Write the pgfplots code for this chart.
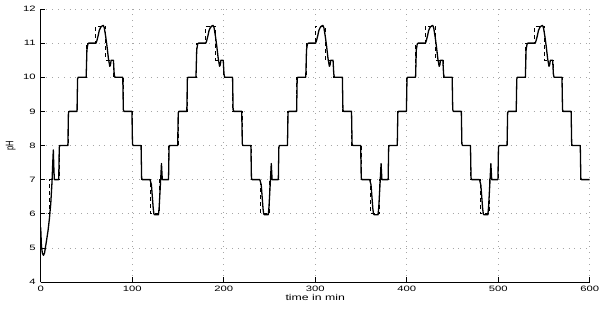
\documentclass[border=0pt]{standalone}
\usepackage{pgfplots}
\pgfplotsset{compat=1.18}
\usepackage{fontspec}
\setmainfont[FakeStretch=1.45]{Liberation Sans}
\newfontfamily\ylfont[FakeStretch=0.7]{Liberation Sans}
\pgfplotstableread{
t ph
0 6
10 6
10 7
20 7
20 8
30 8
30 9
40 9
40 10
50 10
50 11
60 11
60 11.5
71 11.5
71 10.5
80 10.5
80 10
90 10
90 9
100 9
100 8
110 8
110 7
120.4 7
120.4 6
130.2 6
130.2 7
140 7
140 8
150 8
150 9
160 9
160 10
170 10
170 11
180 11
180 11.5
191 11.5
191 10.5
200 10.5
200 10
210 10
210 9
220 9
220 8
230 8
230 7
240.4 7
240.4 6
250.2 6
250.2 7
260 7
260 8
270 8
270 9
280 9
280 10
290 10
290 11
300 11
300 11.5
311 11.5
311 10.5
320 10.5
320 10
330 10
330 9
340 9
340 8
350 8
350 7
360.4 7
360.4 6
370.2 6
370.2 7
380 7
380 8
390 8
390 9
400 9
400 10
410 10
410 11
420 11
420 11.5
431 11.5
431 10.5
440 10.5
440 10
450 10
450 9
460 9
460 8
470 8
470 7
480.4 7
480.4 6
490.2 6
490.2 7
500 7
500 8
510 8
510 9
520 9
520 10
530 10
530 11
540 11
540 11.5
551 11.5
551 10.5
560 10.5
560 10
570 10
570 9
580 9
580 8
590 8
590 7
600 7
}\setpoint
\pgfplotstableread{
t ph
0 5.6
0.8 5.05
1.8 4.85
3 4.78
4.2 4.85
6 5.15
8 5.5
9.5 5.85
11 6.3
12.3 6.9
13.2 7.5
13.8 7.87
14.3 7.4
14.9 7.0
15 7
19.7 7
20.3 7.95
21 8
29.7 8
30.3 8.95
31 9
39.7 9
40.3 9.95
41 10
49.7 10
50.5 10.8
51.5 10.97
52.5 11
60.5 11
61.5 11.08
62.8 11.22
64 11.37
65.5 11.46
67 11.5
68.4 11.52
69.5 11.45
71 11.2
72.5 10.9
74 10.55
75.5 10.32
76.2 10.36
77 10.5
79.5 10.5
80.3 10.1
81 10
89.7 10
90.3 9.05
91 9
99.7 9
100.3 8.05
101 8
109.7 8
110.3 7.05
111 7
119.5 7
121 6.85
122 6.5
123 6.15
123.7 6.0
124.5 5.97
128.7 5.97
129.5 6.2
130.5 6.7
131.5 7.2
132 7.47
132.4 7.25
132.9 7.0
134 7
135 7
139.7 7
140.3 7.95
141 8
149.7 8
150.3 8.95
151 9
159.7 9
160.3 9.95
161 10
169.7 10
170.5 10.8
171.5 10.97
172.5 11
180.5 11
181.5 11.08
182.8 11.22
184 11.37
185.5 11.46
187 11.5
188.4 11.52
189.5 11.45
191 11.2
192.5 10.9
194 10.55
195.5 10.32
196.2 10.36
197 10.5
199.5 10.5
200.3 10.1
201 10
209.7 10
210.3 9.05
211 9
219.7 9
220.3 8.05
221 8
229.7 8
230.3 7.05
231 7
239.5 7
241 6.85
242 6.5
243 6.15
243.7 6.0
244.5 5.97
248.7 5.97
249.5 6.2
250.5 6.7
251.5 7.2
252 7.47
252.4 7.25
252.9 7.0
254 7
255 7
259.7 7
260.3 7.95
261 8
269.7 8
270.3 8.95
271 9
279.7 9
280.3 9.95
281 10
289.7 10
290.5 10.8
291.5 10.97
292.5 11
300.5 11
301.5 11.08
302.8 11.22
304 11.37
305.5 11.46
307 11.5
308.4 11.52
309.5 11.45
311 11.2
312.5 10.9
314 10.55
315.5 10.32
316.2 10.36
317 10.5
319.5 10.5
320.3 10.1
321 10
329.7 10
330.3 9.05
331 9
339.7 9
340.3 8.05
341 8
349.7 8
350.3 7.05
351 7
359.5 7
361 6.85
362 6.5
363 6.15
363.7 6.0
364.5 5.97
368.7 5.97
369.5 6.2
370.5 6.7
371.5 7.2
372 7.47
372.4 7.25
372.9 7.0
374 7
375 7
379.7 7
380.3 7.95
381 8
389.7 8
390.3 8.95
391 9
399.7 9
400.3 9.95
401 10
409.7 10
410.5 10.8
411.5 10.97
412.5 11
420.5 11
421.5 11.08
422.8 11.22
424 11.37
425.5 11.46
427 11.5
428.4 11.52
429.5 11.45
431 11.2
432.5 10.9
434 10.55
435.5 10.32
436.2 10.36
437 10.5
439.5 10.5
440.3 10.1
441 10
449.7 10
450.3 9.05
451 9
459.7 9
460.3 8.05
461 8
469.7 8
470.3 7.05
471 7
479.5 7
481 6.85
482 6.5
483 6.15
483.7 6.0
484.5 5.97
488.7 5.97
489.5 6.2
490.5 6.7
491.5 7.2
492 7.47
492.4 7.25
492.9 7.0
494 7
495 7
499.7 7
500.3 7.95
501 8
509.7 8
510.3 8.95
511 9
519.7 9
520.3 9.95
521 10
529.7 10
530.5 10.8
531.5 10.97
532.5 11
540.5 11
541.5 11.08
542.8 11.22
544 11.37
545.5 11.46
547 11.5
548.4 11.52
549.5 11.45
551 11.2
552.5 10.9
554 10.55
555.5 10.32
556.2 10.36
557 10.5
559.5 10.5
560.3 10.1
561 10
569.7 10
570.3 9.05
571 9
579.7 9
580.3 8.05
581 8
589.7 8
590.3 7.05
591 7
600 7
}\measured
\begin{document}
\begin{tikzpicture}
\begin{axis}[
  width=549bp, height=273bp, scale only axis,
  xmin=0, xmax=600, ymin=4, ymax=12,
  xtick={0,100,...,600}, ytick={4,5,...,12},
  axis x line*=bottom, axis y line*=left,
  axis line style={-, line width=0.6bp},
  tick align=inside, major tick length=4.5bp,
  tick style={black, line width=0.6bp},
  grid=major,
  grid style={gray!70, line width=0.6bp, dash pattern=on 0.8bp off 5bp},
  /pgf/number format/assume math mode=true,
  ticklabel style={font=\fontsize{7.8}{8}\selectfont},
  yticklabel style={xshift=-1.5bp},
  xticklabel style={yshift=-0.5bp},
  xlabel={time in min},
  xlabel style={font=\fontsize{8.5}{9}\selectfont, at={(axis description cs:0.5,-0.055)}, anchor=center},
  ylabel={\ylfont pH},
  ylabel style={font=\fontsize{11}{12}\selectfont, at={(axis description cs:-0.0546,0.5)}, anchor=center, rotate=0},
]
\addplot[black, line width=0.9bp, dash pattern=on 4bp off 3bp] table[x=t,y=ph] {\setpoint};
\addplot[black, line width=1.3bp, line join=round] table[x=t,y=ph] {\measured};
\end{axis}
\pgfresetboundingbox
\path ([xshift=-40.7bp,yshift=-27bp]current axis.south west) rectangle ([xshift=9.3bp,yshift=9bp]current axis.north east);
\end{tikzpicture}
\end{document}
